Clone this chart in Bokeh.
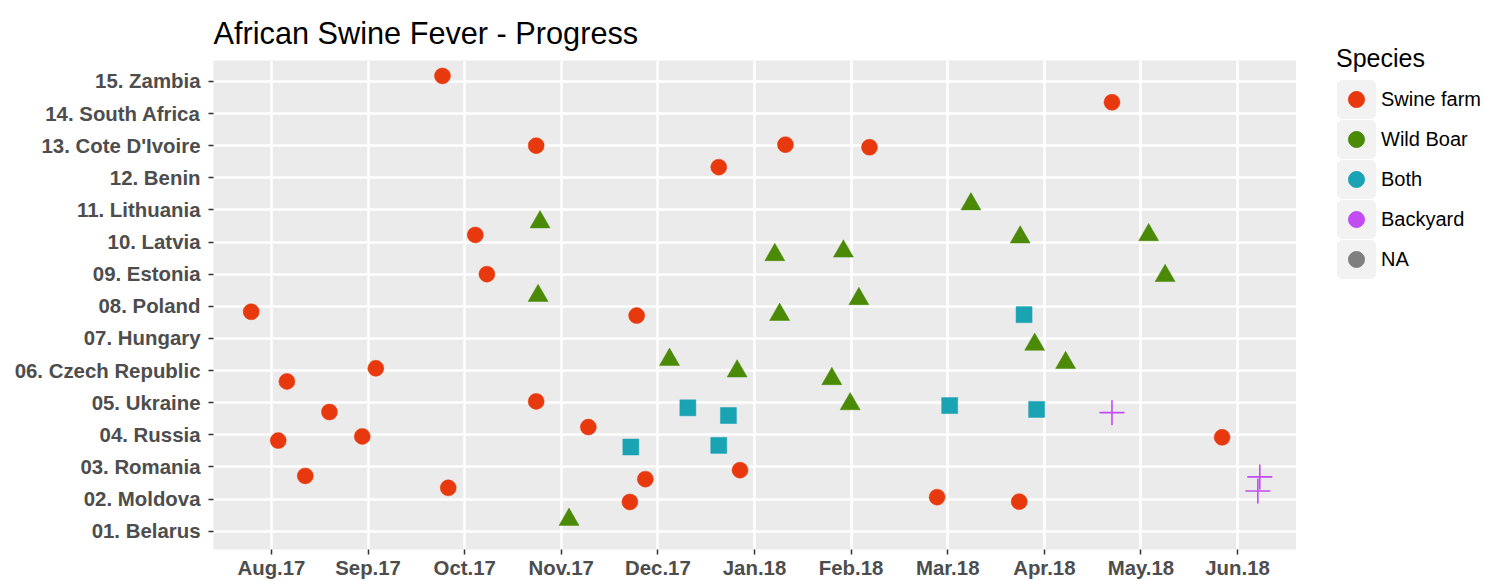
from bokeh.plotting import figure
from bokeh.layouts import row, column
from bokeh.models import ColumnDataSource, FixedTicker, Legend, LegendItem, Range1d
from bokeh.embed import file_html
from bokeh.resources import INLINE

# ---------------- data ----------------
countries = ["01. Belarus", "02. Moldova", "03. Romania", "04. Russia", "05. Ukraine",
             "06. Czech Republic", "07. Hungary", "08. Poland", "09. Estonia", "10. Latvia",
             "11. Lithuania", "12. Benin", "13. Cote D'Ivoire", "14. South Africa", "15. Zambia"]
months = ["Aug.17", "Sep.17", "Oct.17", "Nov.17", "Dec.17", "Jan.18",
          "Feb.18", "Mar.18", "Apr.18", "May.18", "Jun.18"]
species = ["Swine farm", "Wild Boar", "Both", "Backyard", "NA"]
species_colors = ["#E8380D", "#4A8A06", "#1AA3B3", "#C24CF2", "#7F7F7F"]

# x = month position (0 = Aug.17), country number, vertical jitter
swine_month = [1.77, 8.70, 2.74, 5.32, 6.19, 4.63, 2.11, 2.23, -0.21, 3.78, 0.16, 1.08, 0.60,
               2.74, 0.07, 0.94, 3.28, 9.84, 0.35, 3.87, 4.85, 1.83, 3.71, 6.89, 7.74]
swine_country = [15, 14, 13, 13, 13, 12, 10, 9, 8, 8, 6, 6, 5, 5, 4, 4, 4, 4, 3, 3, 3, 2, 2, 2, 2]
swine_jitter = [0.17, 0.35, 0.00, 0.03, -0.05, 0.33, 0.22, 0.00, -0.17, -0.29, -0.34, 0.07, -0.29,
                0.04, -0.18, -0.05, 0.24, -0.08, -0.28, -0.38, -0.10, 0.35, -0.09, 0.06, -0.08]

boar_month = [2.78, 7.24, 5.21, 5.92, 7.75, 9.08, 9.25, 2.76, 5.26, 6.08, 7.90, 4.12, 4.82,
              5.80, 8.22, 5.99, 3.08]
boar_country = [11, 11, 10, 10, 10, 10, 9, 8, 8, 8, 7, 6, 6, 6, 6, 5, 1]
boar_jitter = [-0.38, 0.18, -0.40, -0.29, 0.15, 0.22, -0.05, 0.33, -0.26, 0.23, -0.19, 0.34,
               -0.02, -0.26, 0.24, -0.04, 0.36]

both_month = [7.79, 4.31, 4.73, 7.02, 7.92, 3.72, 4.63]
both_country = [8, 5, 5, 5, 5, 4, 4]
both_jitter = [-0.26, -0.16, -0.40, -0.09, -0.21, -0.38, -0.33]

backyard_month = [8.70, 10.23, 10.21]
backyard_country = [5, 3, 2]
backyard_jitter = [-0.31, -0.31, 0.25]


def source(xs, cs, js):
    return ColumnDataSource(dict(x=xs, y=[c + j for c, j in zip(cs, js)]))


src_swine = source(swine_month, swine_country, swine_jitter)
src_boar = source(boar_month, boar_country, boar_jitter)
src_both = source(both_month, both_country, both_jitter)
src_back = source(backyard_month, backyard_country, backyard_jitter)

# ---------------- main figure ----------------
p = figure(width=1296, height=581,
           x_range=Range1d(-0.60, 10.61), y_range=Range1d(0.43, 15.65),
           output_backend="svg", toolbar_location=None,
           min_border_left=213, min_border_right=0, min_border_top=60, min_border_bottom=20,
           background_fill_color="#EBEBEB", border_fill_color="white",
           outline_line_color=None)

p.title.text = "African Swine Fever - Progress"
p.title.text_font = "Liberation Sans"
p.title.text_font_style = "normal"
p.title.text_font_size = "30.7px"
p.title.text_color = "#000000"
p.title.text_line_height = 1.0
p.title.align = "left"
p.title.standoff = 20

p.xaxis.ticker = FixedTicker(ticks=list(range(len(months))))
p.xaxis.major_label_overrides = {i: m for i, m in enumerate(months)}
p.yaxis.ticker = FixedTicker(ticks=list(range(1, len(countries) + 1)))
p.yaxis.major_label_overrides = {i + 1: c for i, c in enumerate(countries)}

for ax in (p.xaxis, p.yaxis):
    ax.axis_line_color = None
    ax.major_tick_line_color = "#333333"
    ax.major_tick_line_width = 1.5
    ax.major_tick_out = 5
    ax.major_tick_in = 0
    ax.minor_tick_line_color = None
    ax.major_label_text_font = "Liberation Sans"
    ax.major_label_text_font_style = "bold"
    ax.major_label_text_font_size = "20.4px"
    ax.major_label_text_color = "#4D4D4D"
    ax.major_label_text_line_height = 1.0
p.xaxis.major_label_standoff = 2
p.yaxis.major_label_standoff = 8

for g in (p.xgrid, p.ygrid):
    g.grid_line_color = "white"
    g.grid_line_width = 2.5
    g.minor_grid_line_color = None

p.scatter("x", "y", source=src_swine, marker="circle", size=16,
          fill_color=species_colors[0], line_color=species_colors[0], line_width=0.5)
p.scatter("x", "y", source=src_boar, marker="triangle", size=20,
          fill_color=species_colors[1], line_color=species_colors[1], line_width=0.5)
p.scatter("x", "y", source=src_both, marker="square", size=16,
          fill_color=species_colors[2], line_color=species_colors[2], line_width=0.5)
p.scatter("x", "y", source=src_back, marker="cross", size=25,
          line_color=species_colors[3], line_width=1.6)

# ---------------- legend panel ----------------
lg = figure(width=189, height=581, output_backend="svg", toolbar_location=None,
            x_range=Range1d(0, 1), y_range=Range1d(0, 1),
            x_axis_location=None, y_axis_location=None, title_location=None,
            min_border=0, outline_line_color=None,
            background_fill_color="white", border_fill_color="white")
lg.xgrid.visible = False
lg.ygrid.visible = False

key_bg = lg.rect("x", "y", width=0, height=0, source=src_swine,
                 fill_color="#F2F2F2", line_color="#F2F2F2", line_width=7, visible=False)
items = []
for name, col in zip(species, species_colors):
    r = lg.scatter("x", "y", source=src_swine, marker="circle", size=16,
                   fill_color=col, line_color=col, visible=False)
    items.append(LegendItem(label=name, renderers=[key_bg, r]))

legend = Legend(items=items, title="Species", location=(40, 302),
                glyph_width=40, glyph_height=40, label_height=40,
                spacing=0, padding=0, margin=0, label_standoff=5,
                label_text_font="Liberation Sans", label_text_font_size="20px",
                label_text_color="#000000",
                title_text_font="Liberation Sans", title_text_font_size="25px",
                title_text_font_style="normal", title_text_color="#000000",
                title_standoff=6,
                border_line_color=None, background_fill_alpha=0)
lg.add_layout(legend, "center")

layout = row(p, column(lg))
open("out.html", "w").write(file_html(layout, INLINE))
